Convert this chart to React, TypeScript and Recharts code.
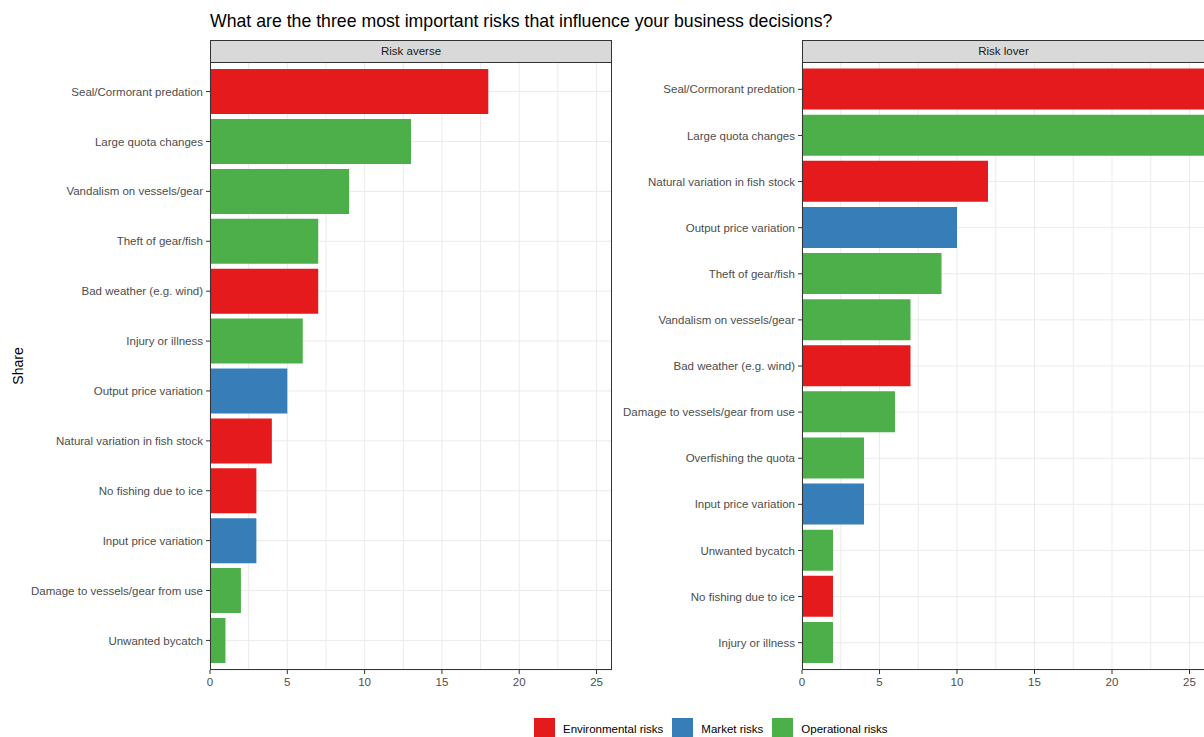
import React from 'react';
import { BarChart, Bar, Cell, XAxis, YAxis, CartesianGrid } from 'recharts';

// Risk survey: top-3 risks influencing business decisions, by risk attitude

const AVERSE_LABELS = [
  'Seal/Cormorant predation',
  'Large quota changes',
  'Vandalism on vessels/gear',
  'Theft of gear/fish',
  'Bad weather (e.g. wind)',
  'Injury or illness',
  'Output price variation',
  'Natural variation in fish stock',
  'No fishing due to ice',
  'Input price variation',
  'Damage to vessels/gear from use',
  'Unwanted bycatch',
];
const AVERSE_VALUES = [18, 13, 9, 7, 7, 6, 5, 4, 3, 3, 2, 1];
const AVERSE_GROUPS = ['Env', 'Op', 'Op', 'Op', 'Env', 'Op', 'Mkt', 'Env', 'Env', 'Mkt', 'Op', 'Op'];

const LOVER_LABELS = [
  'Seal/Cormorant predation',
  'Large quota changes',
  'Natural variation in fish stock',
  'Output price variation',
  'Theft of gear/fish',
  'Vandalism on vessels/gear',
  'Bad weather (e.g. wind)',
  'Damage to vessels/gear from use',
  'Overfishing the quota',
  'Input price variation',
  'Unwanted bycatch',
  'No fishing due to ice',
  'Injury or illness',
];
const LOVER_VALUES = [26, 26, 12, 10, 9, 7, 7, 6, 4, 4, 2, 2, 2];
const LOVER_GROUPS = ['Env', 'Op', 'Env', 'Mkt', 'Op', 'Op', 'Env', 'Op', 'Op', 'Mkt', 'Op', 'Env', 'Op'];

const X_TICKS = [0, 2.5, 5, 7.5, 10, 12.5, 15, 17.5, 20, 22.5, 25];
const X_MAX = 26;

const GROUP_COLORS: Record<string, string> = {
  Env: '#E41A1C',
  Mkt: '#377EB8',
  Op: '#4DAF4A',
};
const GROUP_NAMES: Record<string, string> = {
  Env: 'Environmental risks',
  Mkt: 'Market risks',
  Op: 'Operational risks',
};

const FONT = '"Liberation Sans", Arial, sans-serif';
const PLOT_H = 608;

function XTick(props: any) {
  const { x, y, payload } = props;
  if (payload.value % 5 !== 0) return null;
  return (
    <g>
      <line x1={x} x2={x} y1={y - 6} y2={y - 2} stroke="#333" />
      <text x={x} y={y + 10} textAnchor="middle" fontSize={11.5} fill="#4D4D4D" fontFamily={FONT}>
        {payload.value}
      </text>
    </g>
  );
}

function YTick(props: any) {
  const { x, y, payload } = props;
  return (
    <text x={x} y={y} dy="0.36em" textAnchor="end" fontSize={11.5} fill="#4D4D4D" fontFamily={FONT}>
      {payload.value}
    </text>
  );
}

interface PanelProps {
  title: string;
  labels: string[];
  values: number[];
  groups: string[];
  chartLeft: number;
  axisWidth: number;
  panelWidth: number;
}

function Panel({ title, labels, values, groups, chartLeft, axisWidth, panelWidth }: PanelProps) {
  const rows = labels.map((label, i) => ({ label, value: values[i], group: groups[i] }));
  // ggplot discrete expansion: 0.6 units each side -> 0.1 unit extra beyond the band
  const unit = PLOT_H / (labels.length + 1.2);
  const pad = unit * 0.1;
  const plotLeft = chartLeft + axisWidth;

  return (
    <>
      <div style={{ position: 'absolute', left: chartLeft, top: 62 }}>
        <BarChart
          width={axisWidth + panelWidth}
          height={PLOT_H + 30}
          data={rows}
          layout="vertical"
          margin={{ top: 0, right: 0, bottom: 0, left: 0 }}
          barCategoryGap="5%"
        >
          <CartesianGrid stroke="#EBEBEB" strokeWidth={1} />
          <XAxis
            type="number"
            domain={[0, X_MAX]}
            ticks={X_TICKS}
            allowDataOverflow
            axisLine={false}
            tickLine={false}
            tickSize={4}
            tickMargin={2}
            height={30}
            tick={<XTick />}
          />
          <YAxis
            type="category"
            dataKey="label"
            width={axisWidth}
            interval={0}
            axisLine={false}
            tickLine={{ stroke: '#333' }}
            tickSize={4}
            tickMargin={3}
            padding={{ top: pad, bottom: pad }}
            tick={<YTick />}
          />
          <Bar dataKey="value" isAnimationActive={false}>
            {rows.map((r, i) => (
              <Cell key={i} fill={GROUP_COLORS[r.group]} />
            ))}
          </Bar>
        </BarChart>
      </div>
      <div
        style={{
          position: 'absolute',
          left: plotLeft,
          top: 40,
          width: panelWidth,
          height: PLOT_H + 22,
          boxSizing: 'border-box',
          border: '1px solid #333',
          pointerEvents: 'none',
        }}
      >
        <div
          style={{
            height: 21,
            background: '#D9D9D9',
            borderBottom: '1px solid #333',
            fontSize: 11.5,
            color: '#1A1A1A',
            textAlign: 'center',
            lineHeight: '21px',
          }}
        >
          {title}
        </div>
      </div>
    </>
  );
}

export default function App() {
  return (
    <div
      style={{
        position: 'absolute',
        left: 0,
        top: 0,
        width: 1204,
        height: 737,
        overflow: 'hidden',
        background: '#fff',
        fontFamily: FONT,
      }}
    >
      <div style={{ position: 'absolute', left: 210, top: 11, fontSize: 17.7, color: '#000', whiteSpace: 'nowrap' }}>
        What are the three most important risks that influence your business decisions?
      </div>
      <div
        style={{
          position: 'absolute',
          left: 18,
          top: 366,
          transform: 'translate(-50%, -50%) rotate(-90deg)',
          fontSize: 14,
          color: '#000',
        }}
      >
        Share
      </div>

      <Panel
        title="Risk averse"
        labels={AVERSE_LABELS}
        values={AVERSE_VALUES}
        groups={AVERSE_GROUPS}
        chartLeft={0}
        axisWidth={210}
        panelWidth={402}
      />
      <Panel
        title="Risk lover"
        labels={LOVER_LABELS}
        values={LOVER_VALUES}
        groups={LOVER_GROUPS}
        chartLeft={612}
        axisWidth={190}
        panelWidth={403}
      />

      <div style={{ position: 'absolute', left: 534, top: 718, display: 'flex', alignItems: 'center', fontSize: 11.5, color: '#000' }}>
        {['Env', 'Mkt', 'Op'].map((g) => (
          <div key={g} style={{ display: 'flex', alignItems: 'center', marginRight: 9 }}>
            <div style={{ width: 21, height: 21, background: GROUP_COLORS[g], marginRight: 8 }} />
            <span>{GROUP_NAMES[g]}</span>
          </div>
        ))}
      </div>
    </div>
  );
}
